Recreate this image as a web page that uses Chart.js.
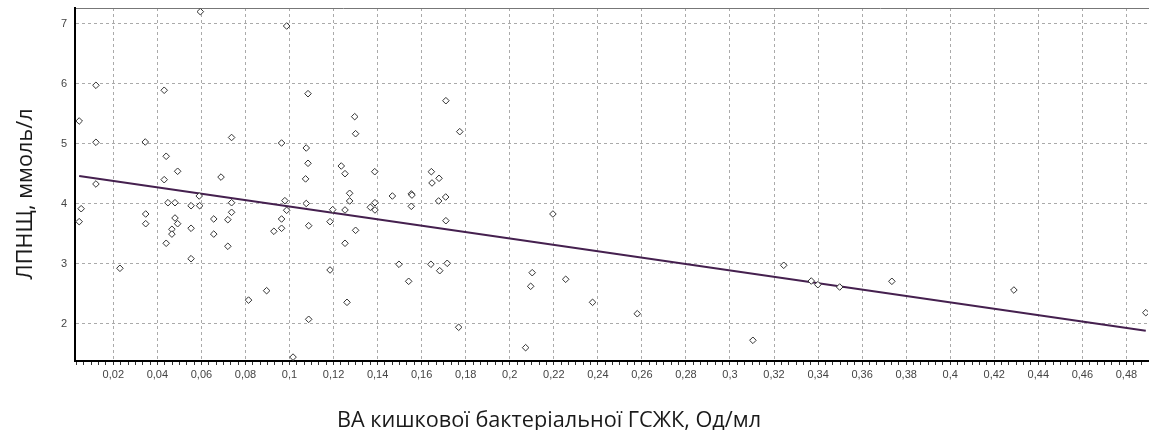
<!DOCTYPE html>
<html>
<head>
<meta charset="utf-8">
<script src="https://cdn.jsdelivr.net/npm/chart.js@4/dist/chart.umd.min.js"></script>
<style>
  html, body { margin: 0; padding: 0; background: #fff; }
  #wrap { width: 1149px; height: 430px; position: relative; }
</style>
</head>
<body>
<div id="wrap"><canvas id="c"></canvas></div>
<script>
// Скатер: ВА кишкової бактеріальної ГСЖК vs ЛПНЩ + лінія регресії
const xTitle = "ВА кишкової бактеріальної ГСЖК, Од/мл";
const yTitle = "ЛПНЩ, ммоль/л";

const xVals = [
  0.0045, 0.0121, 0.0431, 0.1084, 0.0121, 0.0345, 0.0737, 0.0964, 0.1076, 0.1084,
  0.0440, 0.0492, 0.0431, 0.0689, 0.0121, 0.1073, 0.0979, 0.0590, 0.0448, 0.0480,
  0.0737, 0.1076, 0.0054, 0.0045, 0.0347, 0.0347, 0.0553, 0.0592, 0.0480, 0.0492,
  0.0466, 0.0466, 0.0440, 0.0553, 0.0553, 0.0656, 0.0656, 0.0720, 0.0737, 0.0720,
  0.0230, 0.0814, 0.0896, 0.0929, 0.0964, 0.0964, 0.0987, 0.1087, 0.1087, 0.1016,
  0.0595, 0.0987, 0.1296, 0.1300, 0.1710, 0.1773, 0.1235, 0.1252, 0.1387, 0.1273,
  0.1273, 0.1467, 0.1553, 0.1556, 0.1644, 0.1679, 0.1647, 0.1709, 0.1677, 0.1553,
  0.1196, 0.1184, 0.1252, 0.1367, 0.1388, 0.1388, 0.1300, 0.1252, 0.1184, 0.1261,
  0.1710, 0.1497, 0.1541, 0.1642, 0.1682, 0.1716, 0.1768, 0.2196, 0.2072, 0.2102,
  0.2095, 0.2254, 0.2376, 0.2579, 0.3104, 0.3244, 0.3369, 0.3399, 0.3498, 0.3735,
  0.4289, 0.4888
];
const yVals = [
  5.375, 5.97, 5.887, 5.83, 5.02, 5.025, 5.10, 5.008, 4.925, 4.67,
  4.787, 4.537, 4.397, 4.44, 4.325, 4.41, 4.047, 4.125, 4.013, 4.013,
  4.013, 4.0, 3.913, 3.697, 3.825, 3.663, 3.963, 3.963, 3.758, 3.663,
  3.57, 3.49, 3.337, 3.587, 3.08, 3.742, 3.49, 3.73, 3.853, 3.287,
  2.92, 2.39, 2.547, 3.537, 3.587, 3.742, 3.887, 3.63, 2.07, 1.44,
  7.197, 6.958, 5.447, 5.163, 5.713, 5.197, 4.625, 4.497, 4.53, 4.17,
  4.042, 4.125, 4.16, 4.14, 4.53, 4.42, 4.342, 4.108, 4.042, 3.953,
  3.897, 3.697, 3.892, 3.937, 4.013, 3.892, 3.553, 3.337, 2.892, 2.353,
  3.713, 2.987, 2.703, 2.987, 2.88, 3.003, 1.937, 3.825, 1.597, 2.847,
  2.62, 2.737, 2.353, 2.163, 1.72, 2.97, 2.708, 2.647, 2.608, 2.703,
  2.558, 2.18
];

// лінія регресії (кінці)
const fitX = [0.0045, 0.4888];
const fitY = [4.457, 1.881];

const xMajorTicks = [0.02, 0.04, 0.06, 0.08, 0.1, 0.12, 0.14, 0.16, 0.18, 0.2, 0.22, 0.24,
  0.26, 0.28, 0.3, 0.32, 0.34, 0.36, 0.38, 0.4, 0.42, 0.44, 0.46, 0.48];
const yTicks = [2, 3, 4, 5, 6, 7];
const xRange = [0.0026, 0.4898];
const yRange = [1.375, 7.258];
const MINOR_PER_MAJOR = 6;

const isMajor = (v) => xMajorTicks.some((m) => Math.abs(m - v) < 1e-7);
const fmt = (v) => String(+v.toFixed(2)).replace(".", ",");

function xTickList() {
  const step = 0.02 / MINOR_PER_MAJOR;
  const out = [];
  for (let v = 0; v <= xRange[1]; v += step) {
    const r = Math.round(v * 1e7) / 1e7;
    if (r >= xRange[0]) out.push({ value: r });
  }
  return out;
}

// підписи осей малюємо вручну: у оригіналі вони не центровані по області графіка
const titlesPlugin = {
  id: "axisTitles",
  afterDraw(chart) {
    const ctx = chart.ctx;
    ctx.save();
    ctx.fillStyle = "#1a1a1a";
    ctx.font = "21.7px 'Open Sans'";
    ctx.textAlign = "center";
    ctx.textBaseline = "alphabetic";
    ctx.fillText(xTitle, 549, 427);
    ctx.translate(32, 194);
    ctx.rotate(-Math.PI / 2);
    ctx.fillText(yTitle, 0, 0);
    ctx.restore();
  },
};

const gridDash = [3, 3];

new Chart(document.getElementById("c"), {
  data: {
    datasets: [
      {
        type: "line",
        data: fitX.map((x, i) => ({ x, y: fitY[i] })),
        borderColor: "#45204f",
        borderWidth: 2,
        pointRadius: 0,
        fill: false,
        order: 2,
      },
      {
        type: "scatter",
        data: xVals.map((x, i) => ({ x, y: yVals[i] })),
        pointStyle: "rectRot",
        radius: 3.3,
        borderWidth: 1,
        borderColor: "#333",
        backgroundColor: "#ffffff",
        order: 1,
      },
    ],
  },
  options: {
    responsive: true,
    maintainAspectRatio: false,
    animation: false,
    // autoPadding вимкнено, інакше праворуч з'являється зайвий відступ під маркери
    layout: { autoPadding: false, padding: { left: 0, right: 1, top: 0, bottom: 0 } },
    plugins: { legend: { display: false }, tooltip: { enabled: false } },
    scales: {
      x: {
        type: "linear",
        position: "bottom",
        min: xRange[0],
        max: xRange[1],
        afterBuildTicks: (s) => { s.ticks = xTickList(); },
        afterFit: (s) => { s.height = 69; s.paddingLeft = 0; s.paddingRight = 0; },
        border: { color: "#000", width: 2, dash: gridDash },
        grid: {
          color: (c) => (c.tick && isMajor(c.tick.value) ? "#aaaaaa" : "rgba(0,0,0,0)"),
          tickColor: "#333",
          tickLength: 4,
          tickWidth: 1,
          lineWidth: 1,
        },
        ticks: {
          autoSkip: false,
          maxRotation: 0,
          padding: 3,
          color: "#444",
          font: { family: "'Liberation Sans', Arial", size: 11 },
          callback: (v) => (isMajor(v) ? fmt(v) : ""),
        },
      },
      xTop: {
        type: "linear",
        position: "top",
        min: xRange[0],
        max: xRange[1],
        afterFit: (s) => { s.height = 8; s.paddingLeft = 0; s.paddingRight = 0; },
        border: { color: "#777", width: 1 },
        grid: { display: false, drawTicks: false },
        ticks: { display: false },
      },
      y: {
        type: "linear",
        position: "left",
        min: yRange[0],
        max: yRange[1],
        afterBuildTicks: (s) => { s.ticks = yTicks.map((v) => ({ value: v })); },
        afterFit: (s) => { s.width = 75; s.paddingTop = 0; s.paddingBottom = 0; },
        border: { color: "#000", width: 2, dash: gridDash },
        grid: { color: "#aaaaaa", lineWidth: 1, drawTicks: false },
        ticks: {
          padding: 8,
          color: "#444",
          font: { family: "'Liberation Sans', Arial", size: 11 },
        },
      },
    },
  },
  plugins: [titlesPlugin],
});
</script>
</body>
</html>
